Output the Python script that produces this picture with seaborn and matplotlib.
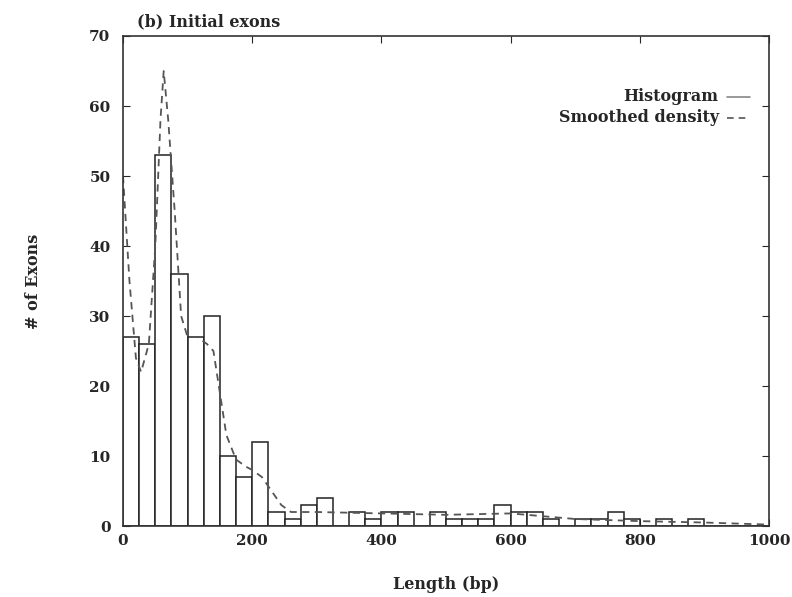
import numpy as np
import pandas as pd
import seaborn as sns
import matplotlib.pyplot as plt

# histogram counts, 25 bp bins from 0 to 1000
bin_width = 25
counts = [27, 26, 53, 36, 27, 30, 10, 7, 12, 2,
          1, 3, 4, 0, 2, 1, 2, 2, 0, 2,
          1, 1, 1, 3, 2, 2, 1, 0, 1, 1,
          2, 1, 0, 1, 0, 1, 0, 0, 0, 0]

# smoothed density (scaled to counts)
dens_x = [0, 10, 20, 28, 40, 50, 58, 63, 70, 80, 90, 100, 115, 130, 140,
          150, 160, 175, 190, 200, 215, 230, 245, 260, 300, 400, 500, 600,
          700, 800, 900, 1000]
dens_y = [50, 35, 24, 22, 26, 40, 58, 65, 58, 45, 30, 27, 27, 26, 25,
          19, 13, 9.5, 8.5, 8, 7, 5, 3, 2, 2, 1.8, 1.6, 1.8,
          1, 0.7, 0.5, 0.2]

sns.set_style("ticks")
plt.rcParams['font.family'] = ['DejaVu Serif']
plt.rcParams['font.weight'] = 'bold'

fig = plt.figure(figsize=(7.92, 5.97), dpi=100)
ax = fig.add_axes([0.1553, 0.1189, 0.9710 - 0.1553, 0.9397 - 0.1189])

centers = np.arange(len(counts)) * bin_width + bin_width / 2
hist = pd.DataFrame({'length': centers, 'count': counts})
dens = pd.DataFrame({'length': dens_x, 'count': dens_y})

sns.histplot(data=hist, x='length', weights='count', binwidth=bin_width,
             binrange=(0, 1000), ax=ax, color='white', edgecolor='#222222',
             linewidth=1.1, alpha=1)
sns.lineplot(data=dens, x='length', y='count', ax=ax, color='#555555',
             linestyle=(0, (4, 3)), linewidth=1.3)

ax.set_xlim(0, 1000)
ax.set_ylim(0, 70)
ax.set_xticks(range(0, 1001, 200))
ax.set_yticks(range(0, 71, 10))
ax.tick_params(direction='in', top=True, right=True, length=5,
               labelsize=11, width=0.8)
ax.tick_params(axis='y', pad=9)
ax.tick_params(axis='x', pad=6)
for lab in ax.get_xticklabels() + ax.get_yticklabels():
    lab.set_fontweight('bold')
for s in ax.spines.values():
    s.set_linewidth(1.2)
    s.set_color('#333333')

ax.set_xlabel('Length (bp)', fontsize=11.5, fontweight='bold', labelpad=20)
ax.set_ylabel('# of Exons', fontsize=11.5, fontweight='bold', labelpad=34)
ax.text(0.022, 1.012, '(b) Initial exons', transform=ax.transAxes,
        fontsize=11.5, fontweight='bold', ha='left', va='bottom')

# gnuplot-style key: text right-aligned, sample to the right
key = [('Histogram', '-', '#888888', 0.876),
       ('Smoothed density', (0, (4, 3)), '#555555', 0.833)]
for label, ls, col, yk in key:
    ax.text(0.922, yk, label, transform=ax.transAxes, fontsize=11.5,
            fontweight='bold', ha='right', va='center')
    ax.plot([0.935, 0.97], [yk, yk], transform=ax.transAxes,
            linestyle=ls, color=col, linewidth=1.2)

sns.despine(ax=ax, top=False, right=False)
fig.savefig('out.png', dpi=100)
